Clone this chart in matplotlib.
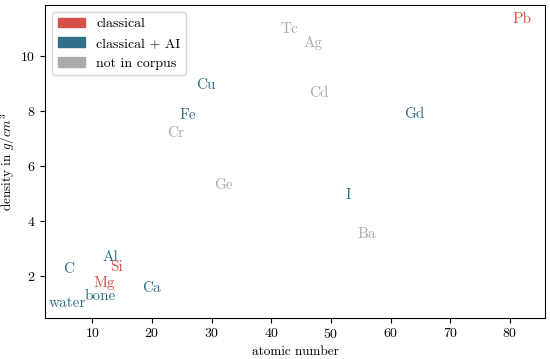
import matplotlib
matplotlib.use("Agg")
import matplotlib.pyplot as plt
from matplotlib.patches import Patch

plt.rcParams['font.family'] = 'serif'
plt.rcParams['font.serif'] = ['cmr10']
plt.rcParams['mathtext.fontset'] = 'cm'
plt.rcParams['axes.formatter.use_mathtext'] = True
plt.rcParams['axes.unicode_minus'] = False

RED = '#d6504a'
TEAL = '#2f7088'
GRAY = '#aaaaaa'

labels = ['water', 'bone', 'C', 'Mg', 'Al', 'Si', 'Ca', 'Cr', 'Fe', 'Cu', 'Ge',
          'Tc', 'Ag', 'Cd', 'I', 'Ba', 'Gd', 'Pb']
atomic_number = [5.9, 11.3, 6, 12, 13, 14, 20, 24, 26, 29, 32,
                 43, 47, 48, 53, 56, 64, 82]
density = [1.0, 1.25, 2.26, 1.74, 2.70, 2.33, 1.55, 7.19, 7.87, 8.96, 5.32,
           11.0, 10.49, 8.65, 4.93, 3.51, 7.90, 11.34]
category = ['ai', 'ai', 'ai', 'classical', 'ai', 'classical', 'ai', 'none', 'ai', 'ai', 'none',
            'none', 'none', 'none', 'ai', 'none', 'ai', 'classical']
legend_labels = ['classical', 'classical + AI', 'not in corpus']
cat_colors = {'classical': RED, 'ai': TEAL, 'none': GRAY}

fig = plt.figure(figsize=(5.5, 3.59), dpi=100)
ax = fig.add_axes([0.082, 0.115, 0.909, 0.871])

ax.scatter(atomic_number, density, s=0, alpha=0)
for lab, x, y, c in zip(labels, atomic_number, density, category):
    ax.text(x, y, lab, color=cat_colors[c], ha='center', va='center', fontsize=11)

ax.set_xlim(2.1, 85.9)
ax.set_ylim(0.48, 11.86)
ax.set_xticks([10, 20, 30, 40, 50, 60, 70, 80])
ax.set_yticks([2, 4, 6, 8, 10])
ax.tick_params(labelsize=10)
ax.set_xlabel('atomic number', fontsize=9.5, labelpad=3)
ax.set_ylabel('density in $g/cm^3$', fontsize=9.5, labelpad=2)

handles = [Patch(facecolor=RED, edgecolor=RED), Patch(facecolor=TEAL, edgecolor=TEAL),
           Patch(facecolor=GRAY, edgecolor=GRAY)]
ax.legend(handles, legend_labels, loc='upper left', fontsize=10)

fig.savefig('out.png', dpi=100)
